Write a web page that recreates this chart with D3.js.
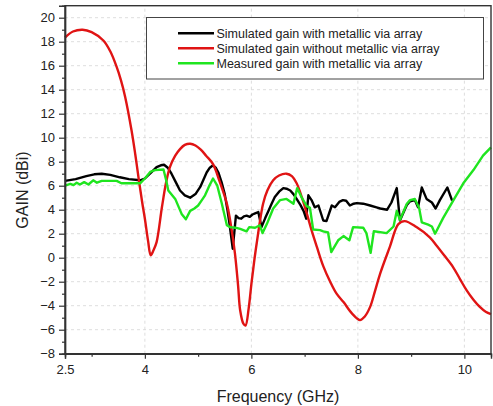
<!DOCTYPE html>
<html>
<head>
<meta charset="utf-8">
<script src="https://cdn.jsdelivr.net/npm/d3@7/dist/d3.min.js"></script>
<style>
  html, body { margin: 0; padding: 0; background: #fff; }
  svg { display: block; font-family: "Liberation Sans", Arial, sans-serif; }
</style>
</head>
<body>
<svg id="chart" width="493" height="406"></svg>
<script>
// Gain vs frequency, three traces: [frequency GHz, gain dBi]
const simWithVia = [
  [2.5,6.4],[2.7,6.55],[2.9,6.8],[3.05,6.95],[3.19,7.0],[3.35,6.9],[3.53,6.7],[3.7,6.55],
  [3.91,6.45],[4.0,6.6],[4.06,6.86],[4.14,7.2],[4.22,7.55],[4.3,7.7],[4.36,7.75],[4.43,7.5],
  [4.5,7.0],[4.58,6.3],[4.66,5.6],[4.75,5.2],[4.85,5.0],[4.95,5.3],[5.04,5.9],[5.1,6.5],
  [5.16,7.1],[5.22,7.5],[5.28,7.7],[5.33,7.5],[5.38,7.1],[5.44,6.3],[5.5,5.3],[5.55,4.0],
  [5.59,2.8],[5.65,0.75],[5.71,3.5],[5.76,3.3],[5.81,3.25],[5.86,3.45],[5.91,3.5],[5.97,3.4],
  [6.02,3.6],[6.07,3.7],[6.13,3.8],[6.19,2.55],[6.26,3.3],[6.32,3.9],[6.38,4.5],[6.44,5.05],
  [6.52,5.5],[6.6,5.8],[6.66,5.75],[6.73,5.6],[6.79,5.3],[6.85,4.9],[6.92,4.4],[6.98,3.9],
  [7.03,3.25],[7.07,5.2],[7.13,4.8],[7.19,4.2],[7.26,4.35],[7.35,3.1],[7.41,3.05],[7.51,4.35],
  [7.57,4.2],[7.65,4.65],[7.72,4.8],[7.78,4.75],[7.85,4.35],[7.92,4.5],[7.98,4.55],[8.1,4.5],
  [8.23,4.35],[8.35,4.2],[8.42,4.1],[8.55,4.0],[8.63,4.6],[8.73,5.8],[8.79,3.1],[8.85,3.7],
  [8.92,4.4],[8.98,4.7],[9.07,4.8],[9.13,4.2],[9.2,5.85],[9.29,4.9],[9.39,4.6],[9.46,4.1],
  [9.54,4.8],[9.68,5.85],[9.77,4.75]
];

const simWithoutVia = [
  [2.5,18.35],[2.65,18.85],[2.83,19.0],[3.0,18.8],[3.22,18.1],[3.35,17.2],[3.47,15.9],[3.55,14.8],
  [3.63,13.4],[3.75,10.6],[3.82,8.6],[3.88,6.7],[3.95,4.6],[4.0,3.25],[4.06,1.4],[4.11,0.2],
  [4.16,0.6],[4.22,1.3],[4.32,4.2],[4.4,6.3],[4.47,7.55],[4.57,8.5],[4.66,9.05],[4.75,9.4],
  [4.85,9.5],[4.95,9.35],[5.05,9.0],[5.15,8.5],[5.28,7.8],[5.4,6.4],[5.54,4.5],[5.62,2.6],
  [5.69,0.4],[5.75,-2.3],[5.79,-4.4],[5.85,-5.5],[5.89,-5.65],[5.95,-4.2],[6.0,-2.2],[6.05,-0.4],
  [6.1,1.2],[6.22,4.5],[6.3,5.6],[6.41,6.45],[6.52,6.85],[6.66,7.0],[6.76,6.8],[6.85,6.2],
  [6.95,5.0],[7.04,3.7],[7.13,2.3],[7.23,0.9],[7.35,-0.7],[7.48,-2.0],[7.6,-3.0],[7.73,-3.7],
  [7.9,-4.7],[8.04,-5.2],[8.13,-4.9],[8.23,-4.1],[8.32,-2.8],[8.42,-1.3],[8.6,0.9],[8.76,2.8],
  [8.88,3.05],[9.1,2.55],[9.35,1.7],[9.48,1.0],[9.62,0.2],[9.79,-0.8],[9.92,-1.8],[10.04,-2.7],
  [10.17,-3.5],[10.29,-4.1],[10.4,-4.5],[10.5,-4.7]
];

const measWithVia = [
  [2.5,6.0],[2.6,6.15],[2.66,6.05],[2.72,6.25],[2.78,6.1],[2.86,6.3],[2.94,6.1],[3.03,6.45],
  [3.1,6.25],[3.19,6.4],[3.3,6.4],[3.47,6.4],[3.56,6.2],[3.75,6.2],[3.91,6.2],[4.0,6.6],
  [4.1,7.15],[4.19,7.3],[4.35,7.35],[4.4,6.45],[4.44,5.6],[4.57,4.9],[4.69,3.65],[4.77,3.2],
  [4.85,3.9],[4.93,4.1],[5.0,4.35],[5.07,4.8],[5.13,5.2],[5.2,5.9],[5.28,6.6],[5.36,6.0],
  [5.44,4.6],[5.54,2.7],[5.6,2.55],[5.7,2.5],[5.79,2.4],[5.91,2.2],[5.96,2.55],[6.07,2.5],
  [6.16,2.7],[6.21,2.05],[6.29,2.8],[6.41,4.1],[6.54,4.8],[6.66,4.9],[6.79,4.5],[6.86,5.8],
  [6.94,5.05],[7.04,4.3],[7.1,4.15],[7.16,2.35],[7.29,2.3],[7.35,2.2],[7.44,2.1],[7.5,0.47],
  [7.63,1.45],[7.73,1.8],[7.84,1.45],[7.91,2.55],[8.1,2.5],[8.16,2.05],[8.24,0.4],[8.3,2.2],
  [8.54,2.05],[8.67,2.6],[8.73,3.9],[8.79,3.15],[8.92,4.5],[8.98,4.8],[9.07,4.9],[9.15,4.15],
  [9.2,2.95],[9.32,2.75],[9.39,2.6],[9.45,2.0],[9.6,3.3],[9.79,4.75],[9.98,6.2],[10.17,7.3],
  [10.35,8.5],[10.5,9.2]
];

const xTickLabels = [2.5, 4, 6, 8, 10];
const xMinorTicks = [3, 5, 7, 9];
const xGridValues = [4, 6, 8, 10];
const yTickLabels = [-8, -6, -4, -2, 0, 2, 4, 6, 8, 10, 12, 14, 16, 18, 20];
const yMinorTicks = [-7, -5, -3, -1, 1, 3, 5, 7, 9, 11, 13, 15, 17, 19];

const legendNames = [
  "Simulated gain with metallic via array",
  "Simulated gain without metallic via array",
  "Measured gain with metallic via array"
];
const seriesColors = ["#000000", "#e01414", "#1fe51f"];

const margin = { left: 65, right: 2, top: 5.7, bottom: 52.3 };
const W = 493, H = 406;
const svg = d3.select("#chart");

const x = d3.scaleLinear().domain([2.5, 10.5]).range([margin.left, W - margin.right]);
const y = d3.scaleLinear().domain([-8, 21]).range([H - margin.bottom, margin.top]);

// grid
const grid = svg.append("g").attr("stroke", "#d4d4d4").attr("stroke-width", 0.8)
  .attr("stroke-dasharray", "3,3");
grid.selectAll("line.h").data(yTickLabels.filter(v => v > -8)).join("line")
  .attr("x1", x(2.5)).attr("x2", x(10.5)).attr("y1", d => y(d)).attr("y2", d => y(d));
grid.selectAll("line.v").data(xGridValues).join("line")
  .attr("y1", y(-8)).attr("y2", y(21)).attr("x1", d => x(d)).attr("x2", d => x(d));

// curves
const line = d3.line().x(d => x(d[0])).y(d => y(d[1]));
const smooth = d3.line().x(d => x(d[0])).y(d => y(d[1])).curve(d3.curveCatmullRom.alpha(0.5));

const plot = svg.append("g");
plot.append("path").datum(simWithVia).attr("d", line)
  .attr("fill", "none").attr("stroke", seriesColors[0]).attr("stroke-width", 2.4)
  .attr("stroke-linejoin", "round");
plot.append("path").datum(simWithoutVia).attr("d", smooth)
  .attr("fill", "none").attr("stroke", seriesColors[1]).attr("stroke-width", 2.4)
  .attr("stroke-linejoin", "round");
plot.append("path").datum(measWithVia).attr("d", line)
  .attr("fill", "none").attr("stroke", seriesColors[2]).attr("stroke-width", 2.4)
  .attr("stroke-linejoin", "round");

// frame
svg.append("rect")
  .attr("x", x(2.5)).attr("y", y(21))
  .attr("width", x(10.5) - x(2.5)).attr("height", y(-8) - y(21))
  .attr("fill", "none").attr("stroke", "#333").attr("stroke-width", 1.4);

// axes
const axisColor = "#333";
const xAxis = svg.append("g").attr("transform", `translate(0,${y(-8)})`)
  .call(d3.axisBottom(x).tickValues(xTickLabels).tickSize(5).tickPadding(6)
    .tickFormat(d => d === 2.5 ? "2.5" : d3.format("d")(d)));
const xMinor = svg.append("g").attr("transform", `translate(0,${y(-8)})`)
  .call(d3.axisBottom(x).tickValues(xMinorTicks).tickSize(3).tickFormat(""));
const yAxis = svg.append("g").attr("transform", `translate(${x(2.5)},0)`)
  .call(d3.axisLeft(y).tickValues(yTickLabels).tickSize(6).tickPadding(4));
const yMinor = svg.append("g").attr("transform", `translate(${x(2.5)},0)`)
  .call(d3.axisLeft(y).tickValues(yMinorTicks).tickSize(3).tickFormat(""));

[xAxis, xMinor, yAxis, yMinor].forEach(g => {
  g.select(".domain").attr("stroke", axisColor).attr("stroke-width", 1.4);
  g.selectAll(".tick line").attr("stroke", axisColor).attr("stroke-width", 1.2);
  g.selectAll(".tick text").attr("fill", "#222").style("font-size", "13px")
    .style("font-family", "'Liberation Sans', Arial, sans-serif");
});

// axis titles
svg.append("text")
  .attr("x", (x(2.5) + x(10.5)) / 2).attr("y", 401.5)
  .attr("text-anchor", "middle").attr("fill", "#222").style("font-size", "16px")
  .text("Frequency (GHz)");
svg.append("text")
  .attr("transform", `translate(28,190) rotate(-90)`)
  .attr("text-anchor", "middle").attr("fill", "#222").style("font-size", "16px")
  .text("GAIN (dBi)");

// legend
const legend = svg.append("g");
legend.append("rect")
  .attr("x", 146.5).attr("y", 17.5).attr("width", 337).attr("height", 61.5)
  .attr("fill", "#fff").attr("stroke", "#444").attr("stroke-width", 1);
legendNames.forEach((name, i) => {
  const cy = 33.3 + i * 15;
  legend.append("line")
    .attr("x1", 178).attr("x2", 214).attr("y1", cy).attr("y2", cy)
    .attr("stroke", seriesColors[i]).attr("stroke-width", 2.5);
  legend.append("text")
    .attr("x", 216.5).attr("y", cy + 4.3)
    .attr("fill", "#222").style("font-size", "12.5px")
    .text(name);
});
</script>
</body>
</html>
